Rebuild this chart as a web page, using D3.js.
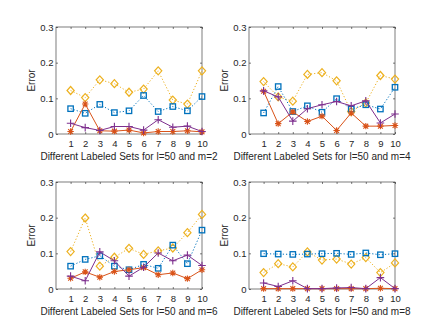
<!doctype html>
<html>
<head>
<meta charset="UTF-8">
<title>errors</title>
<script src="https://cdn.jsdelivr.net/npm/d3@7/dist/d3.min.js"></script>
<style>
  body { margin: 0; background: #fff; }
  svg { display: block; font-family: "Liberation Sans", Arial, sans-serif; }
  .tick text { fill: #262626; }
</style>
</head>
<body>
<div id="chart"></div>
<script>
var sets = [1, 2, 3, 4, 5, 6, 7, 8, 9, 10];
var yTicks = [0, 0.1, 0.2, 0.3];
var mValues = [2, 4, 6, 8];

// one array per series and panel
var diamond_m2 = [0.122, 0.102, 0.152, 0.141, 0.117, 0.126, 0.177, 0.095, 0.084, 0.177];
var square_m2  = [0.071, 0.058, 0.083, 0.060, 0.065, 0.108, 0.063, 0.077, 0.065, 0.105];
var star_m2    = [0.007, 0.084, 0.009, 0.008, 0.011, 0.003, 0.007, 0.007, 0.009, 0.006];
var plus_m2    = [0.030, 0.018, 0.010, 0.021, 0.021, 0.011, 0.040, 0.019, 0.022, 0.007];

var diamond_m4 = [0.147, 0.104, 0.092, 0.167, 0.172, 0.149, 0.063, 0.087, 0.164, 0.154];
var square_m4  = [0.059, 0.133, 0.063, 0.079, 0.061, 0.099, 0.070, 0.082, 0.070, 0.131];
var star_m4    = [0.120, 0.029, 0.062, 0.035, 0.050, 0.010, 0.059, 0.022, 0.022, 0.024];
var plus_m4    = [0.121, 0.104, 0.036, 0.071, 0.082, 0.091, 0.079, 0.093, 0.031, 0.056];

var diamond_m6 = [0.105, 0.199, 0.064, 0.089, 0.114, 0.097, 0.107, 0.115, 0.158, 0.209];
var square_m6  = [0.064, 0.083, 0.093, 0.064, 0.054, 0.069, 0.058, 0.123, 0.071, 0.165];
var star_m6    = [0.030, 0.048, 0.033, 0.049, 0.054, 0.060, 0.040, 0.045, 0.029, 0.054];
var plus_m6    = [0.036, 0.023, 0.104, 0.079, 0.036, 0.061, 0.101, 0.079, 0.095, 0.066];

var diamond_m8 = [0.046, 0.071, 0.062, 0.104, 0.081, 0.084, 0.070, 0.088, 0.046, 0.073];
var square_m8  = [0.099, 0.098, 0.097, 0.098, 0.099, 0.100, 0.097, 0.101, 0.096, 0.099];
var star_m8    = [0.001, 0.001, 0.001, 0.001, 0.001, 0.001, 0.001, 0.001, 0.002, 0.001];
var plus_m8    = [0.017, 0.007, 0.023, 0.001, 0.001, 0.003, 0.004, 0.001, 0.032, 0.001];

var panels = [
  { m: mValues[0], left: 56,  top: 27,  series: [diamond_m2, square_m2, star_m2, plus_m2] },
  { m: mValues[1], left: 249, top: 27,  series: [diamond_m4, square_m4, star_m4, plus_m4] },
  { m: mValues[2], left: 56,  top: 182, series: [diamond_m6, square_m6, star_m6, plus_m6] },
  { m: mValues[3], left: 249, top: 182, series: [diamond_m8, square_m8, star_m8, plus_m8] }
];

var styles = [
  { color: "#EDB120", dash: "1.2,2", marker: "diamond" },
  { color: "#0072BD", dash: "1.2,2", marker: "square" },
  { color: "#D95319", dash: null,    marker: "star" },
  { color: "#7E2F8E", dash: null,    marker: "plus" }
];

var W = 436, H = 328, pw = 146, ph = 107;

var svg = d3.select("#chart").append("svg")
  .attr("width", W).attr("height", H);

function drawMarker(g, type, color) {
  if (type == "diamond") {
    g.append("path").attr("d", "M0,-4L3.6,0L0,4L-3.6,0Z")
      .attr("fill", "none").attr("stroke", color).attr("stroke-width", 1.2);
  } else if (type == "square") {
    g.append("rect").attr("x", -2.7).attr("y", -2.7).attr("width", 5.4).attr("height", 5.4)
      .attr("fill", "none").attr("stroke", color).attr("stroke-width", 1.3);
  } else if (type == "star") {
    g.append("path").attr("d", "M-3.2,0H3.2M0,-3.2V3.2M-2.4,-2.4L2.4,2.4M-2.4,2.4L2.4,-2.4")
      .attr("stroke", color).attr("stroke-width", 1.1);
  } else {
    g.append("path").attr("d", "M-3.8,0H3.8M0,-3.8V3.8")
      .attr("stroke", color).attr("stroke-width", 1.1);
  }
}

panels.forEach(function(p) {
  var x = d3.scaleLinear().domain([0, 10]).range([0, pw]);
  var y = d3.scaleLinear().domain([0, 0.3]).range([ph, 0]);
  var g = svg.append("g").attr("transform", "translate(" + p.left + "," + p.top + ")");

  // axes (matlab style: inward ticks, box on)
  var xAxis = d3.axisBottom(x).tickValues(sets).tickSizeInner(-2).tickSizeOuter(0).tickPadding(6);
  var yAxis = d3.axisLeft(y).tickValues(yTicks).tickSizeInner(-2).tickSizeOuter(0).tickPadding(2.5)
    .tickFormat(function(d) { return d === 0 ? "0" : d3.format(".1f")(d); });

  var gx = g.append("g").attr("transform", "translate(0," + ph + ")").call(xAxis);
  var gy = g.append("g").call(yAxis);
  var gxt = g.append("g").call(d3.axisTop(x).tickValues(sets).tickSizeInner(-2).tickSizeOuter(0).tickFormat(""));
  var gyr = g.append("g").attr("transform", "translate(" + pw + ",0)")
    .call(d3.axisRight(y).tickValues(yTicks).tickSizeInner(-2).tickSizeOuter(0).tickFormat(""));

  [gx, gy, gxt, gyr].forEach(function(a) {
    a.select(".domain").remove();
    a.selectAll(".tick line").attr("stroke", "#262626").attr("stroke-width", 0.6);
    a.selectAll(".tick text").attr("font-size", 9.5).attr("font-family", "Liberation Sans, Arial, sans-serif");
  });

  g.append("rect").attr("width", pw).attr("height", ph)
    .attr("fill", "none").attr("stroke", "#262626").attr("stroke-width", 0.6);

  g.append("text")
    .attr("x", pw / 2).attr("y", ph + 26)
    .attr("text-anchor", "middle").attr("font-size", 10).attr("fill", "#262626")
    .text("Different Labeled Sets for l=50 and m=" + p.m);

  g.append("text")
    .attr("transform", "translate(-21," + (ph / 2) + ") rotate(-90)")
    .attr("text-anchor", "middle").attr("font-size", 10).attr("fill", "#262626")
    .text("Error");

  var line = d3.line()
    .x(function(d, i) { return x(sets[i]); })
    .y(function(d) { return y(d); });

  p.series.forEach(function(vals, k) {
    var st = styles[k];
    var path = g.append("path").attr("d", line(vals))
      .attr("fill", "none").attr("stroke", st.color).attr("stroke-width", 1);
    if (st.dash) path.attr("stroke-dasharray", st.dash);
    vals.forEach(function(v, i) {
      var mg = g.append("g").attr("transform", "translate(" + x(sets[i]) + "," + y(v) + ")");
      drawMarker(mg, st.marker, st.color);
    });
  });
});
</script>
</body>
</html>
